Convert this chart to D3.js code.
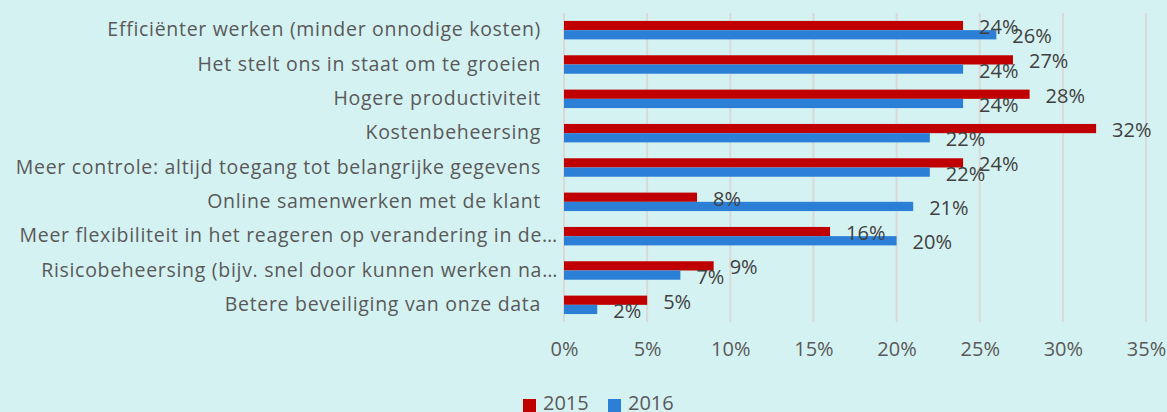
<!DOCTYPE html>
<html>
<head>
<meta charset="utf-8">
<script src="https://cdn.jsdelivr.net/npm/d3@7"></script>
<style>
  body { margin: 0; background: #d5f2f2; }
  svg { display: block; font-family: "Open Sans", sans-serif; }
</style>
</head>
<body>
<svg id="chart" width="1167" height="412"></svg>
<script>
// categorieën van boven naar onder
var categories = [
  "Efficiënter werken (minder onnodige kosten)",
  "Het stelt ons in staat om te groeien",
  "Hogere productiviteit",
  "Kostenbeheersing",
  "Meer controle: altijd toegang tot belangrijke gegevens",
  "Online samenwerken met de klant",
  "Meer flexibiliteit in het reageren op verandering in de…",
  "Risicobeheersing (bijv. snel door kunnen werken na…",
  "Betere beveiliging van onze data"
];
var series = ["2015", "2016"];
var values2015 = [0.24, 0.27, 0.28, 0.32, 0.24, 0.08, 0.16, 0.09, 0.05];
var values2016 = [0.26, 0.24, 0.24, 0.22, 0.22, 0.21, 0.20, 0.07, 0.02];
var xTicks = [0, 0.05, 0.10, 0.15, 0.20, 0.25, 0.30, 0.35];
var colors = { "2015": "#c00000", "2016": "#2b7fd6" };

var svg = d3.select('#chart');

var xscale = d3.scaleLinear()
    .domain([0, 0.35])
    .range([564, 1146]);

var yscale = d3.scaleBand()
    .domain(categories)
    .range([13, 322]);

// twee balken per categorie
var ysub = d3.scaleBand()
    .domain(series)
    .range([0, yscale.bandwidth()])
    .paddingOuter(0.86);

var fmt = d3.format(".0%");

// rasterlijnen
svg.append('g')
    .selectAll('line')
    .data(xTicks)
    .enter()
    .append('line')
    .attr('x1', d => xscale(d))
    .attr('x2', d => xscale(d))
    .attr('y1', 13)
    .attr('y2', 322)
    .attr('stroke', '#d9d9d9')
    .attr('stroke-width', 2);

// x-as labels
var xaxis = d3.axisBottom(xscale)
    .tickValues(xTicks)
    .tickFormat(fmt)
    .tickSize(0)
    .tickPadding(20);

var gx = svg.append('g')
    .attr('transform', 'translate(0,322)')
    .call(xaxis);
gx.select('.domain').remove();
gx.selectAll('text')
    .attr('fill', '#595959')
    .style('font-size', '20px')
    .style('font-family', '"Open Sans", sans-serif');

// categorie labels
var yaxis = d3.axisLeft(yscale)
    .tickSize(0)
    .tickPadding(0);

var gy = svg.append('g')
    .attr('transform', 'translate(541,0)')
    .call(yaxis);
gy.select('.domain').remove();
gy.selectAll('text')
    .attr('fill', '#595959')
    .attr('dx', d => d.endsWith('…') ? 17 : 0)
    .style('font-size', '19.5px')
    .style('letter-spacing', '0.7px')
    .style('font-family', '"Open Sans", sans-serif');

var rows = categories.map(function(c, i) {
    return { cat: c, values: [
        { key: "2015", value: values2015[i] },
        { key: "2016", value: values2016[i] }
    ]};
});

var groups = svg.append('g')
    .selectAll('g.cat')
    .data(rows)
    .enter()
    .append('g')
    .attr('class', 'cat')
    .attr('transform', d => 'translate(0,' + yscale(d.cat) + ')');

groups.selectAll('rect')
    .data(d => d.values)
    .enter()
    .append('rect')
    .attr('x', xscale(0))
    .attr('y', d => ysub(d.key))
    .attr('width', d => xscale(d.value) - xscale(0))
    .attr('height', ysub.bandwidth())
    .attr('fill', d => colors[d.key]);

groups.selectAll('text.lbl')
    .data(d => d.values)
    .enter()
    .append('text')
    .attr('class', 'lbl')
    .attr('x', d => xscale(d.value) + 16)
    .attr('y', d => ysub(d.key) + ysub.bandwidth() / 2 + 1.5)
    .attr('dy', '0.35em')
    .attr('fill', '#404040')
    .style('font-size', '20px')
    .text(d => fmt(d.value));

// legenda
var legend = svg.append('g')
    .selectAll('g')
    .data(series)
    .enter()
    .append('g')
    .attr('transform', (d, i) => 'translate(' + (523 + i * 85) + ',399)');

legend.append('rect')
    .attr('width', 13)
    .attr('height', 13)
    .attr('fill', d => colors[d]);

legend.append('text')
    .attr('x', 20)
    .attr('y', 4)
    .attr('dy', '0.35em')
    .attr('fill', '#595959')
    .style('font-size', '20px')
    .text(d => d);
</script>
</body>
</html>
